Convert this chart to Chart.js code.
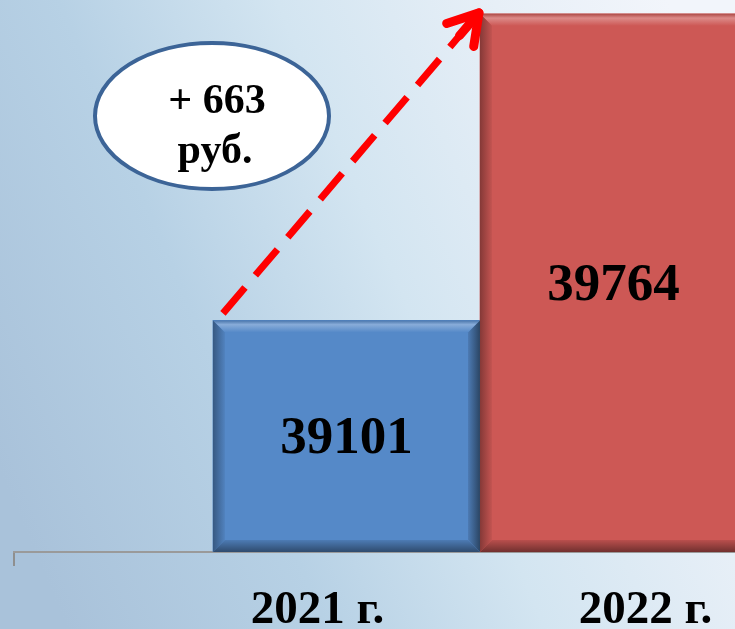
<!DOCTYPE html>
<html>
<head>
<meta charset="utf-8">
<script src="https://cdn.jsdelivr.net/npm/chart.js@4"></script>
<style>
  html, body { margin: 0; padding: 0; overflow: hidden; }
  #wrap { width: 735px; height: 629px; }
</style>
</head>
<body>
<div id="wrap"><canvas id="myBarChart"></canvas></div>
<script>
const years = ['2021 г.', '2022 г.'];
const salary = [39101, 39764];
const barColors = ['#5589c8', '#cd5855'];
const unit = 'руб.';

const FONT = "'Liberation Serif', 'Times New Roman', serif";

const background = {
  id: 'background',
  beforeDraw(chart) {
    const { ctx, width, height } = chart;
    ctx.save();
    const g = ctx.createLinearGradient(0, height * 0.75, width, height * 0.25);
    g.addColorStop(0, '#a9c2da');
    g.addColorStop(0.3, '#b7d1e5');
    g.addColorStop(0.55, '#d3e5f1');
    g.addColorStop(0.8, '#e7eff7');
    g.addColorStop(1, '#f2f5fb');
    ctx.fillStyle = g;
    ctx.fillRect(0, 0, width, height);
    ctx.restore();
  },
};

function shade(hex, amt) {
  const n = parseInt(hex.slice(1), 16);
  const r = (n >> 16) & 255, gg = (n >> 8) & 255, bb = n & 255;
  const f = (c) => Math.max(0, Math.min(255, Math.round(amt < 0 ? c * (1 + amt) : c + (255 - c) * amt)));
  return 'rgb(' + f(r) + ',' + f(gg) + ',' + f(bb) + ')';
}

// bars start below the visible axis minimum, so use the chart area bottom
function barBox(chart, bar) {
  return {
    l: bar.x - bar.width / 2,
    r: bar.x + bar.width / 2,
    t: bar.y,
    btm: Math.min(bar.base, chart.chartArea.bottom),
  };
}

const bevel = {
  id: 'barBevel',
  afterDatasetsDraw(chart) {
    const { ctx, chartArea } = chart;
    const meta = chart.getDatasetMeta(0);
    ctx.save();
    ctx.beginPath();
    ctx.rect(chartArea.left, chartArea.top, chartArea.right - chartArea.left, chartArea.bottom - chartArea.top);
    ctx.clip();
    meta.data.forEach((bar, i) => {
      const c = barColors[i];
      const bv = 12;
      const { l, r, t, btm } = barBox(chart, bar);
      let g = ctx.createLinearGradient(0, t, 0, t + bv);
      g.addColorStop(0, shade(c, -0.15));
      g.addColorStop(0.35, shade(c, 0.3));
      g.addColorStop(1, c);
      ctx.fillStyle = g;
      ctx.beginPath();
      ctx.moveTo(l, t); ctx.lineTo(r, t); ctx.lineTo(r - bv, t + bv); ctx.lineTo(l + bv, t + bv);
      ctx.closePath(); ctx.fill();
      g = ctx.createLinearGradient(l, 0, l + bv, 0);
      g.addColorStop(0, shade(c, -0.35));
      g.addColorStop(1, shade(c, -0.05));
      ctx.fillStyle = g;
      ctx.beginPath();
      ctx.moveTo(l, t); ctx.lineTo(l + bv, t + bv); ctx.lineTo(l + bv, btm - bv); ctx.lineTo(l, btm);
      ctx.closePath(); ctx.fill();
      g = ctx.createLinearGradient(r - bv, 0, r, 0);
      g.addColorStop(0, shade(c, -0.1));
      g.addColorStop(1, shade(c, -0.5));
      ctx.fillStyle = g;
      ctx.beginPath();
      ctx.moveTo(r, t); ctx.lineTo(r - bv, t + bv); ctx.lineTo(r - bv, btm - bv); ctx.lineTo(r, btm);
      ctx.closePath(); ctx.fill();
      g = ctx.createLinearGradient(0, btm - bv, 0, btm);
      g.addColorStop(0, shade(c, -0.1));
      g.addColorStop(1, shade(c, -0.45));
      ctx.fillStyle = g;
      ctx.beginPath();
      ctx.moveTo(l, btm); ctx.lineTo(l + bv, btm - bv); ctx.lineTo(r - bv, btm - bv); ctx.lineTo(r, btm);
      ctx.closePath(); ctx.fill();
    });
    ctx.restore();
  },
};

const annotations = {
  id: 'annotations',
  afterDraw(chart) {
    const { ctx } = chart;
    const bars = chart.getDatasetMeta(0).data;
    const a = bars[0], b = bars[1];
    ctx.save();

    // values inside the bars
    ctx.fillStyle = '#000';
    ctx.font = 'bold 53px ' + FONT;
    ctx.textAlign = 'center';
    ctx.textBaseline = 'middle';
    bars.forEach((bar, i) => {
      const { t, btm } = barBox(chart, bar);
      ctx.fillText(String(salary[i]), bar.x, (t + btm) / 2 + 3);
    });

    // dashed growth arrow
    const x0 = a.x - a.width / 2 + 10, y0 = a.y - 7;
    const x1 = b.x - b.width / 2 - 1, y1 = b.y - 1;
    ctx.strokeStyle = '#ff0000';
    ctx.lineWidth = 7;
    ctx.setLineDash([34, 16]);
    ctx.beginPath();
    ctx.moveTo(x0, y0);
    ctx.lineTo(x1 - 6, y1 + 7);
    ctx.stroke();
    ctx.setLineDash([]);
    const ang = Math.atan2(y1 - y0, x1 - x0);
    ctx.lineWidth = 9;
    ctx.lineCap = 'round';
    ctx.lineJoin = 'round';
    ctx.beginPath();
    ctx.moveTo(x1 - 34 * Math.cos(ang - 0.55), y1 - 34 * Math.sin(ang - 0.55));
    ctx.lineTo(x1, y1);
    ctx.lineTo(x1 - 34 * Math.cos(ang + 0.55), y1 - 34 * Math.sin(ang + 0.55));
    ctx.stroke();
    ctx.beginPath();
    ctx.moveTo(x1, y1);
    ctx.lineTo(x1 - 30 * Math.cos(ang), y1 - 30 * Math.sin(ang));
    ctx.stroke();

    // difference bubble
    const cx = 212, cy = 116;
    ctx.beginPath();
    ctx.ellipse(cx, cy, 117, 73, 0, 0, Math.PI * 2);
    ctx.fillStyle = '#ffffff';
    ctx.fill();
    ctx.lineWidth = 4;
    ctx.strokeStyle = '#3c6497';
    ctx.stroke();
    ctx.fillStyle = '#000';
    ctx.font = 'bold 42px ' + FONT;
    ctx.fillText('+ ' + (salary[1] - salary[0]), cx + 5, cy - 14);
    ctx.fillText(unit, cx + 3, cy + 36);

    // year labels
    ctx.font = 'bold 47px ' + FONT;
    ctx.fillText(years[0], a.x - 29, 611);
    ctx.fillText(years[1], b.x + 32, 611);
    ctx.restore();
  },
};

const ctx = document.getElementById('myBarChart').getContext('2d');
new Chart(ctx, {
  type: 'bar',
  data: {
    datasets: [
      {
        data: salary.map((v, i) => ({ x: i, y: v })),
        backgroundColor: barColors,
        borderWidth: 0,
        barPercentage: 1,
        categoryPercentage: 1,
      },
    ],
  },
  options: {
    responsive: true,
    maintainAspectRatio: false,
    animation: false,
    layout: { padding: { left: 14, right: 0, top: 0, bottom: 63 } },
    plugins: {
      legend: { display: false },
      tooltip: { enabled: false },
    },
    scales: {
      x: {
        type: 'linear',
        offset: false,
        bounds: 'data',
        min: -1.245,
        max: 1.455,
        afterBuildTicks(scale) {
          scale.ticks = [{ value: scale.min }];
        },
        ticks: { display: false },
        grid: {
          display: true,
          offset: false,
          drawOnChartArea: false,
          drawTicks: true,
          tickLength: 14,
          color: '#8f8f8f',
          lineWidth: 2,
        },
        border: { display: true, color: '#9a9a9a', width: 2 },
      },
      y: {
        display: false,
        min: 38600,
        max: 39794,
      },
    },
  },
  plugins: [background, bevel, annotations],
});
</script>
</body>
</html>
